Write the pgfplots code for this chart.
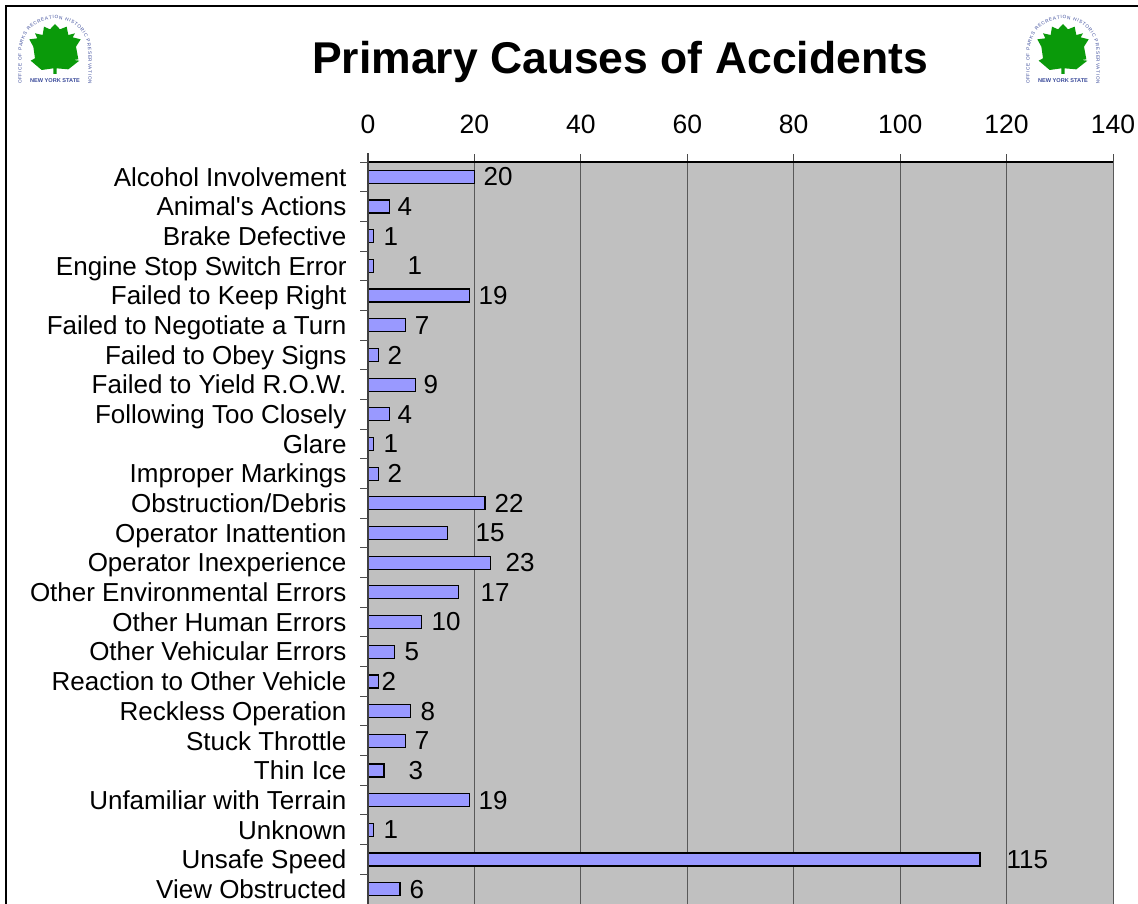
\documentclass[border=0pt]{standalone}
\usepackage{pgfplots}
\usepackage{pgfplotstable}
\usepackage{fontspec}
\setmainfont{Liberation Sans}[Ligatures=TeXOff]
\pgfplotsset{compat=1.18}
\usetikzlibrary{decorations.text}
\definecolor{barfill}{HTML}{9999FF}
\definecolor{plotbg}{HTML}{C0C0C0}
\definecolor{leaf}{HTML}{0A9A0A}
\definecolor{logoblue}{HTML}{3A4A9A}
\pgfplotstableread{
y v shift
0 20 8.6
1 4 7.7
2 1 9.7
3 1 33.7
4 19 8.9
5 7 9
6 2 8.4
7 9 7.1
8 4 7.7
9 1 9.7
10 2 8.4
11 22 8.9
12 15 27.2
13 23 14.6
14 17 21.5
15 10 9.8
16 5 9.4
17 2 2.4
18 8 9.4
19 7 9
20 3 24
21 19 8.9
22 1 9.7
23 115 26
24 6 9
}\causes
\newcommand{\logo}[1]{%
\begin{scope}[shift={(#1pt,853pt)},x=0.3333pt,y=-0.3333pt]
\fill[leaf] (0,-78) -- (15,-62) -- (35,-70) -- (40,-45) -- (60,-50) -- (53,-38) -- (77,-32) -- (63,-10) -- (70,28) -- (55,30) -- (73,32) -- (40,58) -- (5,55) -- (5,72) -- (-5,72) -- (-5,55) -- (-40,60) -- (-73,32) -- (-60,25) -- (-65,-10) -- (-77,-32) -- (-53,-35) -- (-60,-50) -- (-37,-45) -- (-33,-70) -- (-15,-62) -- cycle;
\path[decorate,decoration={text along path,text align={fit to path},text={|\fontsize{4.7}{5}\selectfont\color{logoblue}|OFFICE OF PARKS RECREATION HISTORIC PRESERVATION}}]
 (-100,102) -- (-100,10) .. controls (-100,-128) and (100,-128) .. (100,10) -- (100,102);
\node[font=\fontsize{5.6}{6}\selectfont\bfseries,text=logoblue,inner sep=0pt] at (0,93) {NEW YORK STATE};
\end{scope}}
\begin{document}
\begin{tikzpicture}[x=1pt,y=1pt]
\useasboundingbox (0,0) rectangle (1138,903);
\fill[white] (0,0) rectangle (1138,903);
\draw[black,line width=1.2pt] (6,-2) -- (6,897) -- (1140,897);
\logo{55}
\logo{1063}
\node[font=\fontsize{44.5}{45}\selectfont\bfseries,inner sep=0pt,anchor=base] at (620,829) {Primary Causes of Accidents};
\begin{axis}[
  at={(368pt,741pt)},anchor=north west,
  scale only axis,width=745pt,height=742pt,
  xmin=0,xmax=140,ymin=-0.5,ymax=24.5,
  y dir=reverse,
  axis background/.style={fill=plotbg},
  axis line style={draw=none},
  xtick={0,20,...,140},
  xticklabel pos=right,
  xtick pos=right,
  xmajorgrids,
  grid style={draw=black!65,line width=1pt},
  ytick={0,...,24},
  yticklabels={Alcohol Involvement,Animal's Actions,Brake Defective,Engine Stop Switch Error,Failed to Keep Right,Failed to Negotiate a Turn,Failed to Obey Signs,Failed to Yield R.O.W. ,Following Too Closely,Glare,Improper Markings,Obstruction/Debris,Operator Inattention,Operator Inexperience,Other Environmental Errors,Other Human Errors,Other Vehicular Errors,Reaction to Other Vehicle,Reckless Operation,Stuck Throttle,Thin Ice,Unfamiliar with Terrain,Unknown,Unsafe Speed,View Obstructed},
  ytick style={draw=none},
  major tick length=8pt,
  tick align=outside,
  x tick style={draw=black!70,line width=1pt},
  tick label style={font=\fontsize{26}{26}\selectfont},
  /pgf/number format/assume math mode=true,
  xticklabel style={yshift=17pt,font=\fontsize{26.5}{27}\selectfont},
  yticklabel style={xshift=-10pt,yshift=-2.5pt,text height=19pt,text depth=5.5pt},
  clip=false,
]
\addplot[xbar,bar width=13pt,fill=barfill,draw=black,line width=1.2pt,
  visualization depends on={\thisrow{shift} \as \sh},
  nodes near coords,point meta=explicit symbolic,
  every node near coord/.style={font=\fontsize{26}{26}\selectfont,anchor=west,inner sep=0pt,xshift=\sh pt,text=black}]
  table[x=v,y=y,meta=v]{\causes};
\draw[black,line width=1.2pt] (axis cs:0,-0.5) -- (axis cs:140,-0.5);
\draw[black!75,line width=1.2pt] (axis cs:0,-0.8) -- (axis cs:0,24.6);
\pgfplotsinvokeforeach{-0.5,0.5,...,24.5}{\draw[black!70,line width=1pt] (axis cs:0,#1) -- ++(-8pt,0pt);}
\end{axis}
\end{tikzpicture}
\end{document}
